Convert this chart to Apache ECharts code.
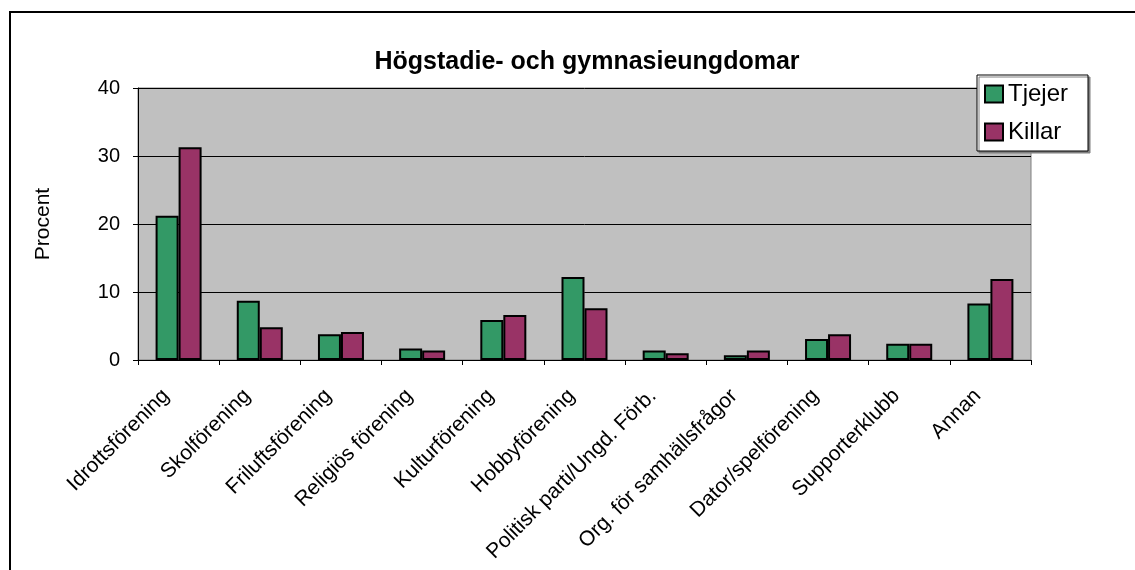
<!DOCTYPE html>
<html>
<head>
<meta charset="utf-8">
<script src="https://cdn.jsdelivr.net/npm/echarts@6/dist/echarts.min.js"></script>
<style>
  html, body { margin: 0; padding: 0; background: #fff; }
  #chart { width: 1135px; height: 570px; }
</style>
</head>
<body>
<div id="chart"></div>
<script>
// Data (percent)
const categories = [
  'Idrottsförening', 'Skolförening', 'Friluftsförening', 'Religiös förening',
  'Kulturförening', 'Hobbyförening', 'Politisk parti/Ungd. Förb.',
  'Org. för samhällsfrågor', 'Dator/spelförening', 'Supporterklubb', 'Annan'
];
const tjejer = [21.2, 8.7, 3.8, 1.7, 5.9, 12.2, 1.4, 0.7, 3.1, 2.4, 8.3];
const killar = [31.3, 4.8, 4.1, 1.4, 6.6, 7.6, 1.0, 1.4, 3.8, 2.4, 11.9];
const yTicks = [0, 10, 20, 30, 40];

const font = '"Liberation Sans", Arial, sans-serif';
const chart = echarts.init(document.getElementById('chart'));

chart.setOption({
    animation: false,
    backgroundColor: '#fff',
    textStyle: { fontFamily: font, color: '#000' },
    title: {
        text: 'Högstadie- och gymnasieungdomar',
        left: 582,
        top: 45,
        textAlign: 'center',
        textStyle: { fontFamily: font, fontSize: 25, fontWeight: 'bold', color: '#000' }
    },
    legend: {
        orient: 'vertical',
        left: 977,
        top: 75,
        padding: [7, 20, 7, 7],
        itemGap: 14,
        itemWidth: 18,
        itemHeight: 17,
        icon: 'rect',
        backgroundColor: '#fff',
        borderColor: '#000',
        borderWidth: 1,
        shadowColor: '#808080',
        shadowOffsetX: 2,
        shadowOffsetY: 2,
        textStyle: { fontFamily: font, fontSize: 24, color: '#000', lineHeight: 24 },
        data: ['Tjejer', 'Killar']
    },
    graphic: [{
        type: 'rect',
        shape: { x: 10, y: 12, width: 1300, height: 700 },
        style: { fill: 'none', stroke: '#000', lineWidth: 2 },
        silent: true
    }],
    grid: {
        left: 138, right: 104, top: 88, bottom: 210,
        show: true,
        backgroundColor: '#c0c0c0',
        borderColor: '#808080',
        borderWidth: 1
    },
    xAxis: {
        type: 'category',
        data: categories,
        axisLine: { lineStyle: { color: '#000', width: 1 } },
        axisTick: { show: true, inside: false, length: 5, alignWithLabel: false, lineStyle: { color: '#000' } },
        axisLabel: {
            interval: 0,
            rotate: 45,
            margin: 20,
            padding: [0, 18, 0, 0],
            fontFamily: font,
            fontSize: 21,
            color: '#000'
        }
    },
    yAxis: {
        type: 'value',
        min: yTicks[0],
        max: yTicks[yTicks.length - 1],
        interval: 10,
        name: 'Procent',
        nameLocation: 'middle',
        nameRotate: 90,
        nameGap: 84,
        nameTextStyle: { fontFamily: font, fontSize: 21, color: '#000' },
        axisLine: { show: true, lineStyle: { color: '#000', width: 1 } },
        axisTick: { show: true, length: 5, lineStyle: { color: '#000' } },
        axisLabel: { margin: 18, fontFamily: font, fontSize: 20, color: '#000' },
        splitLine: { show: true, lineStyle: { color: '#000', width: 1 } }
    },
    series: [
        {
            name: 'Tjejer',
            type: 'bar',
            data: tjejer,
            barWidth: 23,
            barGap: '0%',
            itemStyle: { color: '#339966', borderColor: '#000', borderWidth: 2 }
        },
        {
            name: 'Killar',
            type: 'bar',
            data: killar,
            barWidth: 23,
            barGap: '0%',
            itemStyle: { color: '#993366', borderColor: '#000', borderWidth: 2 }
        }
    ]
});
</script>
</body>
</html>
